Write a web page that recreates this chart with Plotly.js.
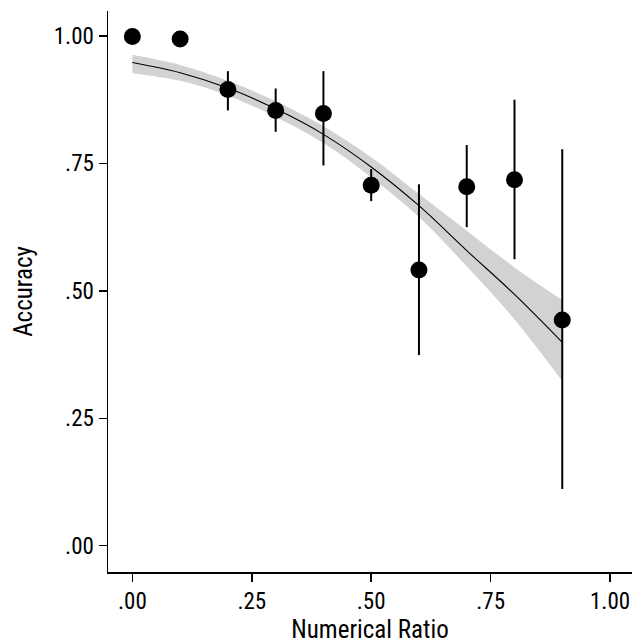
<!DOCTYPE html>
<html>
<head>
<meta charset="utf-8">
<script src="https://cdn.plot.ly/plotly-3.0.1.min.js"></script>
<style>html,body{margin:0;padding:0;background:#fff;}#chart{width:632px;height:644px;}</style>
</head>
<body>
<div id="chart"></div>
<script>
// Observed accuracy by numerical ratio
const ratios = [0, 0.1, 0.2, 0.3, 0.4, 0.5, 0.6, 0.7, 0.8, 0.9];
const accuracy = [0.999, 0.994, 0.895, 0.854, 0.848, 0.707, 0.541, 0.704, 0.718, 0.443];
const ciHigh = [0.999, 0.994, 0.931, 0.897, 0.931, 0.739, 0.709, 0.786, 0.875, 0.778];
const ciLow = [0.999, 0.994, 0.854, 0.812, 0.746, 0.676, 0.374, 0.625, 0.562, 0.111];

// Fitted curve and its confidence band
const fitX = [0, 0.1, 0.2, 0.3, 0.4, 0.5, 0.6, 0.7, 0.8, 0.9];
const fitY = [0.948, 0.928, 0.898, 0.857, 0.807, 0.743, 0.667, 0.579, 0.493, 0.399];
const fitUpper = [0.963, 0.943, 0.912, 0.872, 0.823, 0.762, 0.690, 0.618, 0.546, 0.482];
const fitLower = [0.927, 0.912, 0.883, 0.841, 0.790, 0.723, 0.645, 0.548, 0.444, 0.323];

const xTickVals = [0, 0.25, 0.5, 0.75, 1];
const xTickText = ['.00', '.25', '.50', '.75', '1.00'];
const yTickVals = [0, 0.25, 0.5, 0.75, 1];
const yTickText = ['.00', '.25', '.50', '.75', '1.00'];

const FONT = '"Liberation Sans Narrow", "Arial Narrow", "Roboto Condensed", "Liberation Sans", Arial, sans-serif';

const traces = [
  {x: fitX, y: fitUpper, mode: 'lines', line: {width: 0, shape: 'spline', smoothing: 1}, hoverinfo: 'skip', showlegend: false},
  {x: fitX, y: fitLower, mode: 'lines', line: {width: 0, shape: 'spline', smoothing: 1}, fill: 'tonexty', fillcolor: '#d1d2d4', hoverinfo: 'skip', showlegend: false},
  {x: fitX, y: fitY, mode: 'lines', line: {color: '#000', width: 1.1, shape: 'spline', smoothing: 1}, showlegend: false},
  {
    x: ratios, y: accuracy, mode: 'markers',
    marker: {color: '#000', size: 17},
    error_y: {
      type: 'data', symmetric: false,
      array: ciHigh.map((h, i) => h - accuracy[i]),
      arrayminus: ciLow.map((l, i) => accuracy[i] - l),
      color: '#000', thickness: 2, width: 0
    },
    showlegend: false
  }
];

const axisCommon = {
  showgrid: false, zeroline: false, showline: true, linecolor: '#000', linewidth: 1.5,
  ticks: 'outside', ticklen: 8, tickwidth: 1.5, tickcolor: '#000',
  tickfont: {family: FONT, size: 23, color: '#000'}, mirror: false
};

const layout = {
  width: 632, height: 644,
  margin: {l: 108, r: 0, t: 11, b: 72},
  paper_bgcolor: '#fff', plot_bgcolor: '#fff',
  font: {family: FONT, color: '#000'},
  xaxis: Object.assign({}, axisCommon, {
    range: [-0.051, 1.046], tickmode: 'array', tickvals: xTickVals, ticktext: xTickText,
    title: {text: 'Numerical Ratio', font: {family: FONT, size: 25, color: '#000'}, standoff: 6}
  }),
  yaxis: Object.assign({}, axisCommon, {
    range: [-0.0516, 1.049], tickmode: 'array', tickvals: yTickVals, ticktext: yTickText,
    title: {text: 'Accuracy', font: {family: FONT, size: 25, color: '#000'}, standoff: 14}
  }),
  showlegend: false
};

Plotly.newPlot('chart', traces, layout, {displayModeBar: false, staticPlot: true});
</script>
</body>
</html>
